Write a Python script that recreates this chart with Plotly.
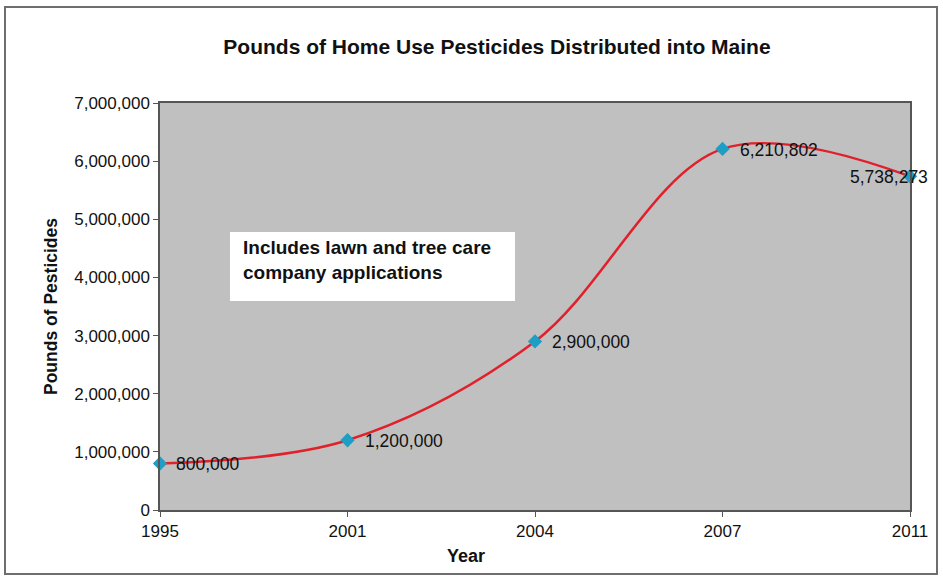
import plotly.graph_objects as go

years = ["1995", "2001", "2004", "2007", "2011"]
pounds = [800000, 1200000, 2900000, 6210802, 5738273]
label_shift = [14, 15, 15, 15, -62]
y_ticks = [0, 1000000, 2000000, 3000000, 4000000, 5000000, 6000000, 7000000]
title_text = "Pounds of Home Use Pesticides Distributed into Maine"
note_text = "Includes lawn and tree care<br>company applications"
x_title = "Year"
y_title = "Pounds of Pesticides"

FONT = "Arial, Liberation Sans, sans-serif"

fig = go.Figure()
fig.add_trace(go.Scatter(
    x=years, y=pounds, mode="lines+markers",
    line=dict(color="#e0202a", width=2.5, shape="spline", smoothing=1.0),
    marker=dict(symbol="diamond", size=11, color="#1e9ec4"),
    cliponaxis=False, showlegend=False, hoverinfo="x+y",
))

annotations = []
for i, (y, s) in enumerate(zip(pounds, label_shift)):
    annotations.append(dict(
        x=i, y=y, xref="x", yref="y", text=f"{y:,}", showarrow=False,
        xanchor="left", yanchor="middle", xshift=s, yshift=-1,
        font=dict(family=FONT, size=17.5, color="#111111"),
    ))

annotations.append(dict(
    x=(241 - 160) / 750, y=(510 - 235) / 407, xref="paper", yref="paper",
    text="<b>" + note_text + "</b>", showarrow=False, align="left",
    xanchor="left", yanchor="top",
    font=dict(family=FONT, size=19, color="#111111"),
))
annotations.append(dict(
    x=(466 - 160) / 750, y=-(556 - 510) / 407, xref="paper", yref="paper",
    text="<b>" + x_title + "</b>", showarrow=False,
    xanchor="center", yanchor="middle",
    font=dict(family=FONT, size=18, color="#111111"),
))

fig.update_layout(
    width=943, height=581,
    margin=dict(l=160, r=33, t=103, b=71),
    paper_bgcolor="white", plot_bgcolor="#c0c0c0",
    title=dict(text="<b>" + title_text + "</b>", x=497 / 943, xanchor="center",
               y=1 - 47 / 581, yanchor="middle",
               font=dict(family=FONT, size=21, color="#111111")),
    font=dict(family=FONT, size=17, color="#111111"),
    annotations=annotations,
    shapes=[
        dict(type="rect", xref="paper", yref="paper",
             x0=(230 - 160) / 750, x1=(515 - 160) / 750,
             y0=(510 - 232) / 407, y1=(510 - 301) / 407,
             fillcolor="white", line=dict(width=0), layer="below"),
        dict(type="rect", xref="paper", yref="paper",
             x0=-155 / 750, x1=(937 - 160) / 750,
             y0=-(574 - 510) / 407, y1=(510 - 7) / 407,
             fillcolor="rgba(0,0,0,0)", line=dict(color="#6e6e6e", width=2)),
    ],
)

fig.update_xaxes(
    type="category", range=[0, 4], showgrid=False,
    showline=True, linecolor="#555555", linewidth=1.5, mirror=True,
    ticks="outside", ticklen=5, tickcolor="#555555",
    tickfont=dict(family=FONT, size=17, color="#111111"),
)
fig.update_yaxes(
    range=[0, 7000000], tickvals=y_ticks, tickformat=",d", showgrid=False,
    zeroline=False, showline=True, linecolor="#555555", linewidth=1.5,
    mirror=True, ticks="outside", ticklen=5, tickcolor="#555555",
    tickfont=dict(family=FONT, size=17, color="#111111"),
    title=dict(text="<b>" + y_title + "</b>", standoff=12,
               font=dict(family=FONT, size=17.5, color="#111111")),
)

fig.write_html("out.html", config={"displayModeBar": False},
               post_script="document.body.style.margin='0';")
